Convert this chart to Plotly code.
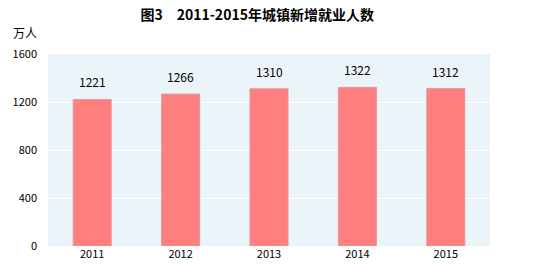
import plotly.graph_objects as go

years = ["2011", "2012", "2013", "2014", "2015"]
values = [1221, 1266, 1310, 1322, 1312]
y_ticks = [0, 400, 800, 1200, 1600]

fig = go.Figure()
fig.add_trace(go.Bar(
    x=years, y=values,
    marker=dict(color="#FF7F7F", line=dict(color="#E39A9A", width=1)),
    width=0.43,
))
annots = [dict(x=i, y=v, text=str(v), xref="x", yref="y", showarrow=False,
               yanchor="bottom", yshift=7,
               font=dict(size=12, color="#000000", family="Noto Sans CJK SC"))
          for i, v in enumerate(values)]
annots.append(dict(text="万人", xref="paper", yref="paper", x=-0.053, y=1.055,
                   xanchor="center", yanchor="bottom", showarrow=False,
                   font=dict(size=12)))
fig.update_layout(
    width=538, height=275,
    margin=dict(l=48, r=48, t=54, b=29),
    paper_bgcolor="white",
    plot_bgcolor="#EBF4F8",
    showlegend=False,
    font=dict(family="Noto Sans CJK SC", size=11, color="#000000"),
    title=dict(text="<b>图3　2011-2015年城镇新增就业人数</b>", x=0.478, xanchor="center",
               y=0.945, yanchor="middle", font=dict(size=14, color="#000000")),
    xaxis=dict(type="category", categoryorder="array", categoryarray=years,
               showgrid=False, ticks="", tickfont=dict(size=11)),
    yaxis=dict(range=[0, 1600], tickvals=y_ticks, gridcolor="white", gridwidth=1,
               zeroline=False, ticks="", ticklabelstandoff=10, tickfont=dict(size=11)),
    annotations=annots,
)
fig.write_html("out.html")
